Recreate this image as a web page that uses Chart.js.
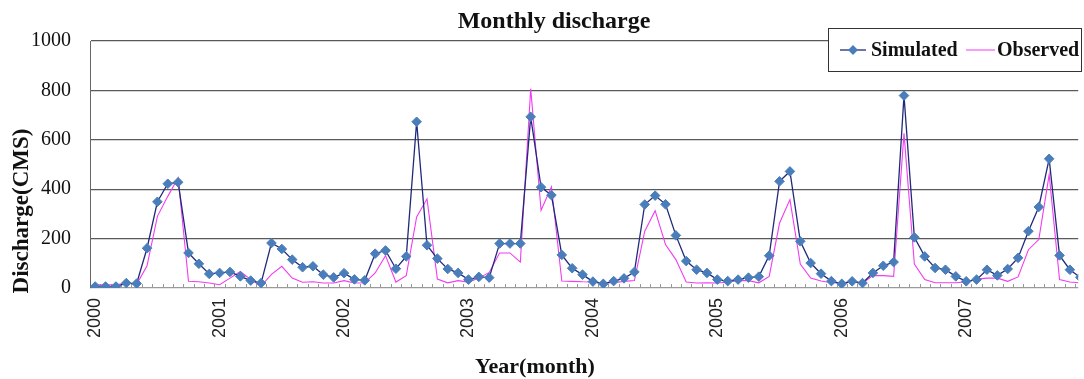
<!DOCTYPE html>
<html>
<head>
<meta charset="utf-8">
<title>Monthly discharge</title>
<script src="https://cdn.jsdelivr.net/npm/chart.js@4.4.1/dist/chart.umd.min.js"></script>
<style>
	html, body { margin: 0; padding: 0; background: #fff; }
	canvas { display: block; }
</style>
</head>
<body>
<canvas id="chart" width="1084" height="379"></canvas>
<script>
// Year labels, one per January
const years = ['2000', '2001', '2002', '2003', '2004', '2005', '2006', '2007'];

// Monthly discharge (CMS), Jan 2000 .. Dec 2007
const simulated = [
	6, 6, 6, 20, 18, 161, 349, 422, 428, 142, 98, 57,
	61, 65, 47, 30, 20, 182, 158, 115, 84, 88, 54, 43,
	60, 35, 31, 139, 152, 78, 128, 673, 173, 119, 77, 61,
	34, 45, 42, 180, 180, 180, 693, 408, 376, 134, 80, 54,
	26, 17, 28, 39, 65, 338, 374, 339, 213, 109, 74, 61,
	34, 28, 34, 42, 46, 131, 432, 472, 189, 101, 58, 28,
	17, 27, 20, 61, 90, 105, 779, 205, 128, 81, 74, 47,
	27, 34, 74, 51, 77, 122, 230, 328, 523, 132, 74, 43,
];
const observed = [
	13, 13, 13, 20, 15, 90, 290, 371, 446, 27, 25, 20,
	13, 40, 67, 34, 8, 55, 88, 40, 23, 25, 20, 20,
	30, 20, 21, 61, 131, 24, 50, 288, 361, 36, 21, 30,
	24, 40, 63, 142, 142, 105, 807, 315, 410, 28, 27, 25,
	24, 20, 21, 27, 30, 230, 313, 176, 115, 24, 20, 21,
	20, 24, 30, 30, 21, 47, 263, 358, 97, 40, 28, 21,
	20, 27, 20, 50, 50, 47, 626, 97, 34, 21, 21, 21,
	24, 36, 40, 40, 27, 45, 155, 196, 459, 34, 24, 21,
];

const serif = '"Liberation Serif", "Times New Roman", serif';
const simLine = '#1f2a78';
const simMarker = '#4a7ebb';
const obsLine = '#f03cf0';

// small month tick marks standing on the x axis
const monthTicks = {
	id: 'monthTicks',
	beforeDatasetsDraw(chart) {
		const {ctx, scales: {x, y}} = chart;
		const base = y.getPixelForValue(0);
		ctx.save();
		ctx.strokeStyle = '#999';
		ctx.lineWidth = 1;
		ctx.beginPath();
		for (let i = 0; i < simulated.length; i++) {
			const px = Math.round(x.getPixelForValue(i + 0.5)) + 0.5;
			ctx.moveTo(px, base);
			ctx.lineTo(px, base - 4);
		}
		ctx.stroke();
		ctx.restore();
	},
};

// title, axis titles and boxed legend
const texts = {
	id: 'texts',
	afterDraw(chart) {
		const {ctx} = chart;
		ctx.save();
		ctx.fillStyle = '#111';
		ctx.textAlign = 'center';
		ctx.textBaseline = 'middle';

		ctx.font = `bold 24px ${serif}`;
		ctx.fillText('Monthly discharge', 554, 22);

		ctx.font = `bold 22px ${serif}`;
		ctx.fillText('Year(month)', 535, 367);

		ctx.save();
		ctx.translate(22, 211);
		ctx.rotate(-Math.PI / 2);
		ctx.font = `bold 23px ${serif}`;
		ctx.fillText('Discharge(CMS)', 0, 0);
		ctx.restore();

		// legend
		ctx.fillStyle = '#fff';
		ctx.fillRect(828.5, 28.5, 253, 43);
		ctx.strokeStyle = '#333';
		ctx.lineWidth = 1;
		ctx.strokeRect(828.5, 28.5, 253, 43);

		const ly = 50;
		ctx.strokeStyle = simLine;
		ctx.lineWidth = 1.3;
		ctx.beginPath();
		ctx.moveTo(840, ly);
		ctx.lineTo(866, ly);
		ctx.stroke();
		ctx.fillStyle = simMarker;
		ctx.beginPath();
		ctx.moveTo(853, ly - 5);
		ctx.lineTo(858, ly);
		ctx.lineTo(853, ly + 5);
		ctx.lineTo(848, ly);
		ctx.closePath();
		ctx.fill();

		ctx.strokeStyle = obsLine;
		ctx.lineWidth = 1;
		ctx.beginPath();
		ctx.moveTo(966, ly);
		ctx.lineTo(995, ly);
		ctx.stroke();

		ctx.fillStyle = '#111';
		ctx.textAlign = 'left';
		ctx.font = `bold 20px ${serif}`;
		ctx.fillText('Simulated', 871, ly + 1);
		ctx.fillText('Observed', 997, ly + 1);
		ctx.restore();
	},
};

new Chart(document.querySelector('#chart'), {
	type: 'line',
	data: {
		datasets: [
			{
				label: 'Simulated',
				data: simulated.map((v, i) => ({x: i, y: v})),
				borderColor: simLine,
				borderWidth: 1.3,
				pointStyle: 'rectRot',
				pointRadius: 4.8,
				pointBackgroundColor: simMarker,
				pointBorderColor: simMarker,
				pointBorderWidth: 1,
				tension: 0,
			},
			{
				label: 'Observed',
				data: observed.map((v, i) => ({x: i, y: v})),
				borderColor: obsLine,
				borderWidth: 1.1,
				pointRadius: 0,
				tension: 0,
			},
		],
	},
	options: {
		responsive: false,
		animation: false,
		devicePixelRatio: 1,
		layout: {padding: {top: 41, right: 0, left: 0, bottom: 0}},
		plugins: {
			legend: {display: false},
			title: {display: false},
			tooltip: {enabled: false},
		},
		scales: {
			x: {
				type: 'linear',
				min: -0.5,
				max: 94.8,
				afterFit: (scale) => { scale.height = 91; },
				afterBuildTicks: (scale) => {
					scale.ticks = years.map((_, k) => ({value: k * 12}));
				},
				grid: {drawOnChartArea: false, drawTicks: false},
				border: {display: false},
				ticks: {
					autoSkip: false,
					maxRotation: 90,
					minRotation: 90,
					padding: 10,
					color: '#222',
					font: {family: '"Liberation Sans", Arial, sans-serif', size: 18},
					callback: (value) => years[value / 12],
				},
			},
			y: {
				min: 0,
				max: 1000,
				afterFit: (scale) => { scale.width = 90; },
				grid: {
					drawTicks: false,
					color: (c) => (c.tick && c.tick.value === 0 ? '#9a9a9a' : '#5a5a5a'),
					lineWidth: 1.3,
				},
				border: {display: true, color: '#666', width: 1},
				ticks: {
					stepSize: 200,
					padding: 19,
					color: '#111',
					font: {family: serif, size: 20},
					callback: (value) => String(value),
				},
			},
		},
	},
	plugins: [monthTicks, texts],
});
</script>
</body>
</html>
